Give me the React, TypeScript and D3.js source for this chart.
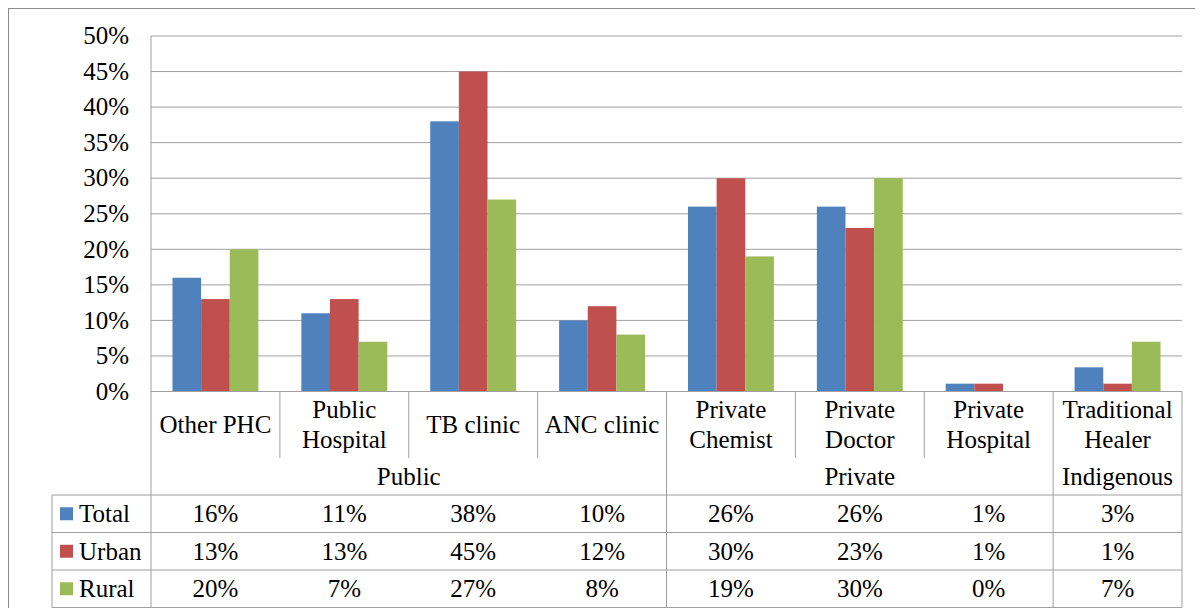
import * as d3 from 'd3'

const categories = ['Other PHC', 'Public\nHospital', 'TB clinic', 'ANC clinic', 'Private\nChemist', 'Private\nDoctor', 'Private\nHospital', 'Traditional\nHealer']
const groupNames = ['Public', 'Private', 'Indigenous']
const groupSizes = [4, 3, 1]
const seriesNames = ['Total', 'Urban', 'Rural']
const total = [16, 11, 38, 10, 26, 26, 1.1, 3.4]
const urban = [13, 13, 45, 12, 30, 23, 1.1, 1.1]
const rural = [20, 7, 27, 8, 19, 30, 0, 7]
const yTicks = [0, 5, 10, 15, 20, 25, 30, 35, 40, 45, 50]

const colors = ['#4F81BD', '#C0504D', '#9BBB59']
const txt = { fontFamily: 'Liberation Serif' }

export default function App() {
  const width = 1195
  const height = 600
  const left = 151
  const right = 1182
  const top = 36
  const zeroY = 391.5
  const catBottom = 458
  const tableTop = 495
  const rowH = 37.5
  const tableLeft = 52
  const fs = 25
  const dy = '0.33em'

  const values = [total, urban, rural]

  const x = d3.scaleBand().domain(categories).range([left, right]).padding(0)
  const inner = d3.scaleBand().domain(seriesNames).range([0, x.bandwidth()]).paddingInner(0).paddingOuter(0.75)
  const y = d3.scaleLinear().domain([0, 50]).range([zeroY, top])
  const pct = (v) => d3.format('.0f')(v) + '%'

  // group boundaries
  const groupEdges = [0]
  groupSizes.forEach((s) => groupEdges.push(groupEdges[groupEdges.length - 1] + s))
  const edgeX = (i) => (i >= categories.length ? right : x(categories[i]))
  const tableBottom = tableTop + rowH * 3
  const lineColor = '#a0a0a0'

  return (
    <svg width={width} height={height}>
      <g transform="translate(-8,-8)">
        <rect x={8} y={8} width={1220} height={605} fill="#fff" stroke="#8c8c8c" strokeWidth={2} />

        {yTicks.filter((t) => t > 0).map((t) => (
          <line key={t} x1={left} x2={right} y1={y(t)} y2={y(t)} stroke={lineColor} strokeWidth={1} />
        ))}
        {yTicks.map((t) => (
          <text key={t} x={129} y={y(t)} dy={dy} textAnchor="end" fontSize={fs} style={txt}>
            {pct(t)}
          </text>
        ))}

        {categories.map((c, ci) => (
          <g key={c}>
            {seriesNames.map((s, si) => {
              const v = values[si][ci]
              return (
                <rect key={s} x={x(c) + inner(s)} y={y(v)} width={inner.bandwidth()} height={zeroY - y(v)} fill={colors[si]} />
              )
            })}
          </g>
        ))}

        <line x1={left} x2={right} y1={zeroY} y2={zeroY} stroke={lineColor} />
        <line x1={left} x2={left} y1={top} y2={tableBottom} stroke={lineColor} />

        {categories.map((c, i) => {
          if (i === 0) return null
          const full = groupEdges.includes(i)
          return <line key={c} x1={x(c)} x2={x(c)} y1={zeroY} y2={full ? tableBottom : catBottom} stroke={lineColor} />
        })}
        <line x1={right} x2={right} y1={zeroY} y2={tableBottom} stroke={lineColor} />

        {categories.map((c) => {
          const lines = c.split('\n')
          const cx = x(c) + x.bandwidth() / 2
          return lines.map((l, li) => (
            <text key={c + li} x={cx} y={lines.length === 1 ? 424.5 : 410 + li * 30} dy={dy} textAnchor="middle" fontSize={fs} style={txt}>
              {l}
            </text>
          ))
        })}

        {groupNames.map((g, gi) => {
          const x0 = edgeX(groupEdges[gi])
          const x1 = edgeX(groupEdges[gi + 1])
          return (
            <text key={g} x={(x0 + x1) / 2} y={477} dy={dy} textAnchor="middle" fontSize={fs} style={txt}>
              {g}
            </text>
          )
        })}

        {seriesNames.map((s, si) => {
          const ry = tableTop + rowH * si
          return (
            <g key={s}>
              <line x1={tableLeft} x2={right} y1={ry} y2={ry} stroke={lineColor} />
              <rect x={60} y={ry + rowH / 2 - 6.5} width={13} height={13} fill={colors[si]} />
              <text x={79} y={ry + rowH / 2} dy={dy} fontSize={fs} style={txt}>{s}</text>
              {categories.map((c, ci) => (
                <text key={c} x={x(c) + x.bandwidth() / 2} y={ry + rowH / 2} dy={dy} textAnchor="middle" fontSize={fs} style={txt}>
                  {pct(values[si][ci])}
                </text>
              ))}
            </g>
          )
        })}
        <line x1={tableLeft} x2={right} y1={tableBottom} y2={tableBottom} stroke={lineColor} />
        <line x1={tableLeft} x2={tableLeft} y1={tableTop} y2={tableBottom} stroke={lineColor} />
      </g>
    </svg>
  )
}
